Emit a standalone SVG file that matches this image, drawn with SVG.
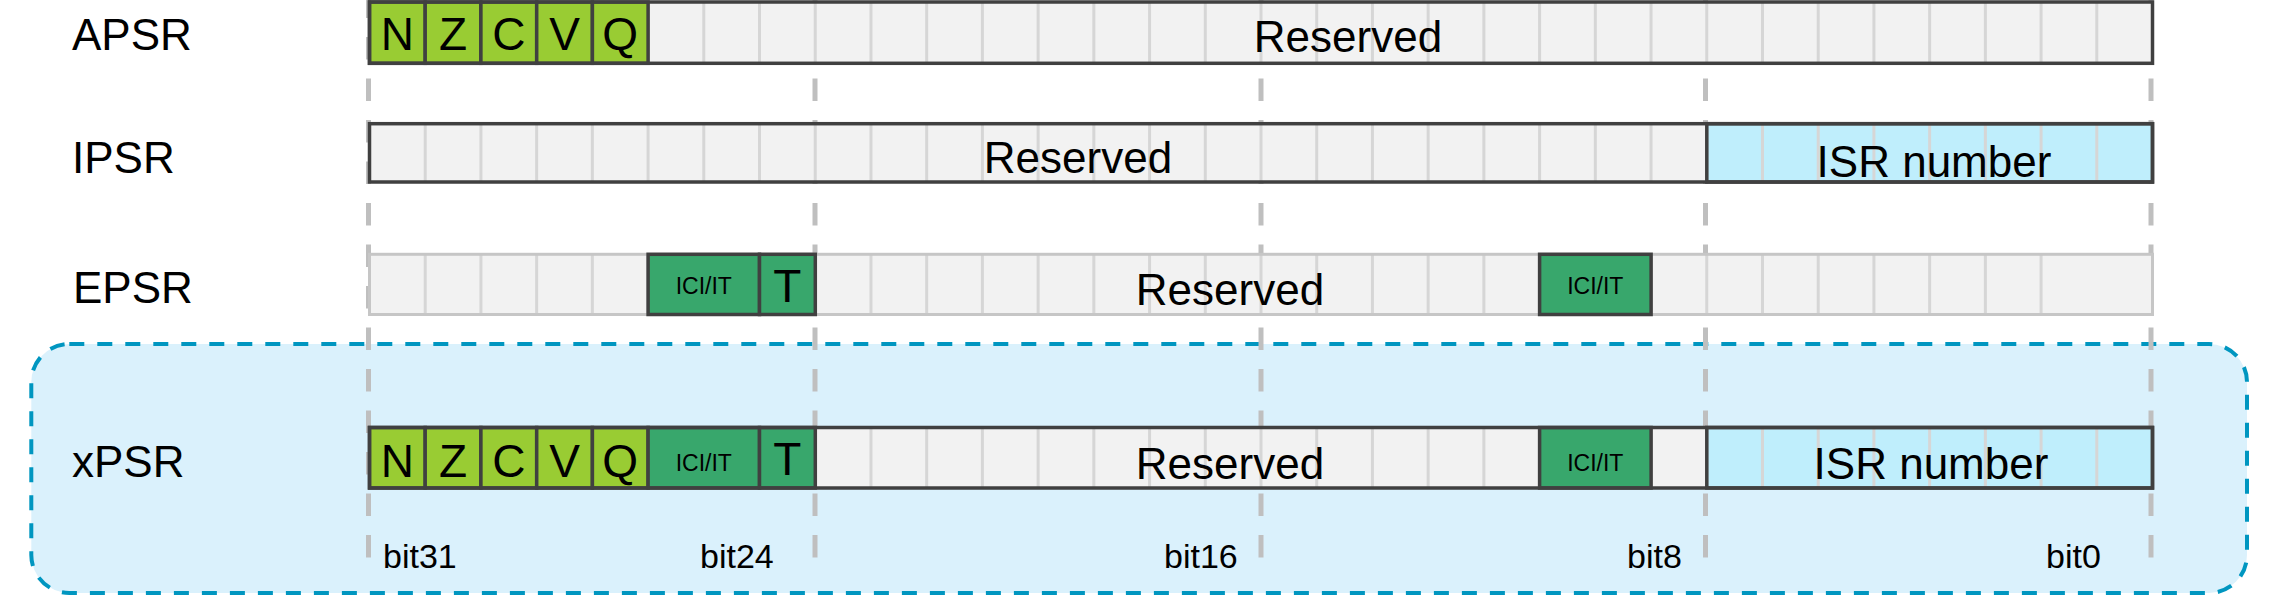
<svg xmlns="http://www.w3.org/2000/svg" width="2275" height="602" viewBox="0 0 2275 602">
<style>
text{font-family:"Liberation Sans",Arial,sans-serif;fill:#000}
.lbl{font-size:44px}
.big{font-size:44px;text-anchor:middle}
.flag{font-size:46px;text-anchor:middle}
.ici{font-size:23px;text-anchor:middle}
.bit{font-size:34px}
.bg{fill:#f2f2f2}
.div{fill:none;stroke:#d6d6d6;stroke-width:3}
.out{fill:none;stroke:#404040;stroke-width:3.5}
.outl{fill:none;stroke:#c6c6c6;stroke-width:3}
.g1{fill:#99cc33;stroke:#404040;stroke-width:3.5}
.g2{fill:#38a76c;stroke:#404040;stroke-width:3.5}
.isr{fill:#bfeefc}
.isro{fill:none;stroke:#404040;stroke-width:3.5}
.vd{stroke:#bfbfbf;stroke-width:5;stroke-dasharray:22.5 19;fill:none}
</style>
<g id="xpsr-area">
<rect x="31.3" y="344" width="2215.7" height="249" rx="38" ry="38" fill="#daf1fc" stroke="#0096c0" stroke-width="4" stroke-dasharray="15 13"/>
</g>
<g id="connectors">
<path class="vd" d="M368.5,-4.5V559M815,-4.5V559M1261,-4.5V559M1705.5,-4.5V559M2151,-4.5V559"/>
</g>
<g id="apsr">
<text class="lbl" x="72" y="49.5">APSR</text>
<rect class="bg" x="369.5" y="2" width="1783" height="61.3"/>
<path class="div" d="M425.2,2v61.3m55.72,-61.3v61.3m55.72,-61.3v61.3m55.72,-61.3v61.3m55.72,-61.3v61.3m55.72,-61.3v61.3m55.72,-61.3v61.3m55.72,-61.3v61.3m55.72,-61.3v61.3m55.72,-61.3v61.3m55.72,-61.3v61.3m55.72,-61.3v61.3m55.72,-61.3v61.3m55.72,-61.3v61.3m55.72,-61.3v61.3m55.72,-61.3v61.3m55.72,-61.3v61.3m55.72,-61.3v61.3m55.72,-61.3v61.3m55.72,-61.3v61.3m55.72,-61.3v61.3m55.72,-61.3v61.3m55.72,-61.3v61.3m55.72,-61.3v61.3m55.72,-61.3v61.3m55.72,-61.3v61.3m55.72,-61.3v61.3m55.72,-61.3v61.3m55.72,-61.3v61.3m55.72,-61.3v61.3m55.72,-61.3v61.3"/>
<rect class="g1" x="369.5" y="2" width="55.7" height="61.3"/>
<rect class="g1" x="425.2" y="2" width="55.7" height="61.3"/>
<rect class="g1" x="480.9" y="2" width="55.8" height="61.3"/>
<rect class="g1" x="536.7" y="2" width="55.7" height="61.3"/>
<rect class="g1" x="592.4" y="2" width="55.7" height="61.3"/>
<rect class="out" x="369.5" y="2" width="1783" height="61.3"/>
<text class="flag" x="397.4" y="49.5">N</text>
<text class="flag" x="453.1" y="49.5">Z</text>
<text class="flag" x="508.8" y="49.5">C</text>
<text class="flag" x="564.5" y="49.5">V</text>
<text class="flag" x="620.2" y="49.5">Q</text>
<text class="big" x="1348" y="51.5">Reserved</text>
</g>
<g id="ipsr">
<text class="lbl" x="72" y="173.3">IPSR</text>
<rect class="bg" x="369.5" y="123.7" width="1783" height="58.3"/>
<rect class="isr" x="1706.8" y="123.7" width="445.7" height="58.3"/>
<path class="div" d="M425.2,123.7v58.3m55.72,-58.3v58.3m55.72,-58.3v58.3m55.72,-58.3v58.3m55.72,-58.3v58.3m55.72,-58.3v58.3m55.72,-58.3v58.3m55.72,-58.3v58.3m55.72,-58.3v58.3m55.72,-58.3v58.3m55.72,-58.3v58.3m55.72,-58.3v58.3m55.72,-58.3v58.3m55.72,-58.3v58.3m55.72,-58.3v58.3m55.72,-58.3v58.3m55.72,-58.3v58.3m55.72,-58.3v58.3m55.72,-58.3v58.3m55.72,-58.3v58.3m55.72,-58.3v58.3m55.72,-58.3v58.3m55.72,-58.3v58.3m55.72,-58.3v58.3m55.72,-58.3v58.3m55.72,-58.3v58.3m55.72,-58.3v58.3m55.72,-58.3v58.3m55.72,-58.3v58.3m55.72,-58.3v58.3m55.72,-58.3v58.3"/>
<rect class="isro" x="1706.8" y="123.7" width="445.7" height="58.3"/>
<rect class="out" x="369.5" y="123.7" width="1783" height="58.3"/>
<text class="big" x="1078" y="173.3">Reserved</text>
<text class="big" x="1934" y="177">ISR number</text>
</g>
<g id="epsr">
<text class="lbl" x="73" y="303.3">EPSR</text>
<rect class="bg" x="369.5" y="254.3" width="1783" height="60.2"/>
<path class="div" d="M425.2,254.3v60.2m55.72,-60.2v60.2m55.72,-60.2v60.2m55.72,-60.2v60.2m55.72,-60.2v60.2m55.72,-60.2v60.2m55.72,-60.2v60.2m55.72,-60.2v60.2m55.72,-60.2v60.2m55.72,-60.2v60.2m55.72,-60.2v60.2m55.72,-60.2v60.2m55.72,-60.2v60.2m55.72,-60.2v60.2m55.72,-60.2v60.2m55.72,-60.2v60.2m55.72,-60.2v60.2m55.72,-60.2v60.2m55.72,-60.2v60.2m55.72,-60.2v60.2m55.72,-60.2v60.2m55.72,-60.2v60.2m55.72,-60.2v60.2m55.72,-60.2v60.2m55.72,-60.2v60.2m55.72,-60.2v60.2m55.72,-60.2v60.2m55.72,-60.2v60.2m55.72,-60.2v60.2m55.72,-60.2v60.2"/>
<rect class="outl" x="369.5" y="254.3" width="1783" height="60.2"/>
<rect class="g2" x="648.1" y="254.3" width="111.4" height="60.2"/>
<rect class="g2" x="759.5" y="254.3" width="55.8" height="60.2"/>
<rect class="g2" x="1539.6" y="254.3" width="111.5" height="60.2"/>
<text class="ici" x="703.8" y="294">ICI/IT</text>
<text class="flag" x="787.4" y="301.5">T</text>
<text class="ici" x="1595.3" y="294">ICI/IT</text>
<text class="big" x="1230" y="305">Reserved</text>
</g>
<g id="xpsr">
<text class="lbl" x="72" y="477">xPSR</text>
<rect class="bg" x="369.5" y="427.5" width="1783" height="60.5"/>
<rect class="isr" x="1706.8" y="427.5" width="445.7" height="60.5"/>
<path class="div" d="M425.2,427.5v60.5m55.72,-60.5v60.5m55.72,-60.5v60.5m55.72,-60.5v60.5m55.72,-60.5v60.5m55.72,-60.5v60.5m55.72,-60.5v60.5m55.72,-60.5v60.5m55.72,-60.5v60.5m55.72,-60.5v60.5m55.72,-60.5v60.5m55.72,-60.5v60.5m55.72,-60.5v60.5m55.72,-60.5v60.5m55.72,-60.5v60.5m55.72,-60.5v60.5m55.72,-60.5v60.5m55.72,-60.5v60.5m55.72,-60.5v60.5m55.72,-60.5v60.5m55.72,-60.5v60.5m55.72,-60.5v60.5m55.72,-60.5v60.5m55.72,-60.5v60.5m55.72,-60.5v60.5m55.72,-60.5v60.5m55.72,-60.5v60.5m55.72,-60.5v60.5m55.72,-60.5v60.5m55.72,-60.5v60.5m55.72,-60.5v60.5"/>
<rect class="g1" x="369.5" y="427.5" width="55.7" height="60.5"/>
<rect class="g1" x="425.2" y="427.5" width="55.7" height="60.5"/>
<rect class="g1" x="480.9" y="427.5" width="55.8" height="60.5"/>
<rect class="g1" x="536.7" y="427.5" width="55.7" height="60.5"/>
<rect class="g1" x="592.4" y="427.5" width="55.7" height="60.5"/>
<rect class="g2" x="648.1" y="427.5" width="111.4" height="60.5"/>
<rect class="g2" x="759.5" y="427.5" width="55.8" height="60.5"/>
<rect class="g2" x="1539.6" y="427.5" width="111.5" height="60.5"/>
<rect class="isro" x="1706.8" y="427.5" width="445.7" height="60.5"/>
<rect class="out" x="369.5" y="427.5" width="1783" height="60.5"/>
<text class="flag" x="397.4" y="476.5">N</text>
<text class="flag" x="453.1" y="476.5">Z</text>
<text class="flag" x="508.8" y="476.5">C</text>
<text class="flag" x="564.5" y="476.5">V</text>
<text class="flag" x="620.2" y="476.5">Q</text>
<text class="ici" x="703.8" y="470.5">ICI/IT</text>
<text class="flag" x="787.4" y="475">T</text>
<text class="ici" x="1595.3" y="470.5">ICI/IT</text>
<text class="big" x="1230" y="478.5">Reserved</text>
<text class="big" x="1931" y="479">ISR number</text>
</g>
<g id="bit-labels">
<text class="bit" x="383" y="567.7">bit31</text>
<text class="bit" x="700" y="567.7">bit24</text>
<text class="bit" x="1164" y="567.7">bit16</text>
<text class="bit" x="1627" y="567.7">bit8</text>
<text class="bit" x="2046" y="567.7">bit0</text>
</g>
</svg>
